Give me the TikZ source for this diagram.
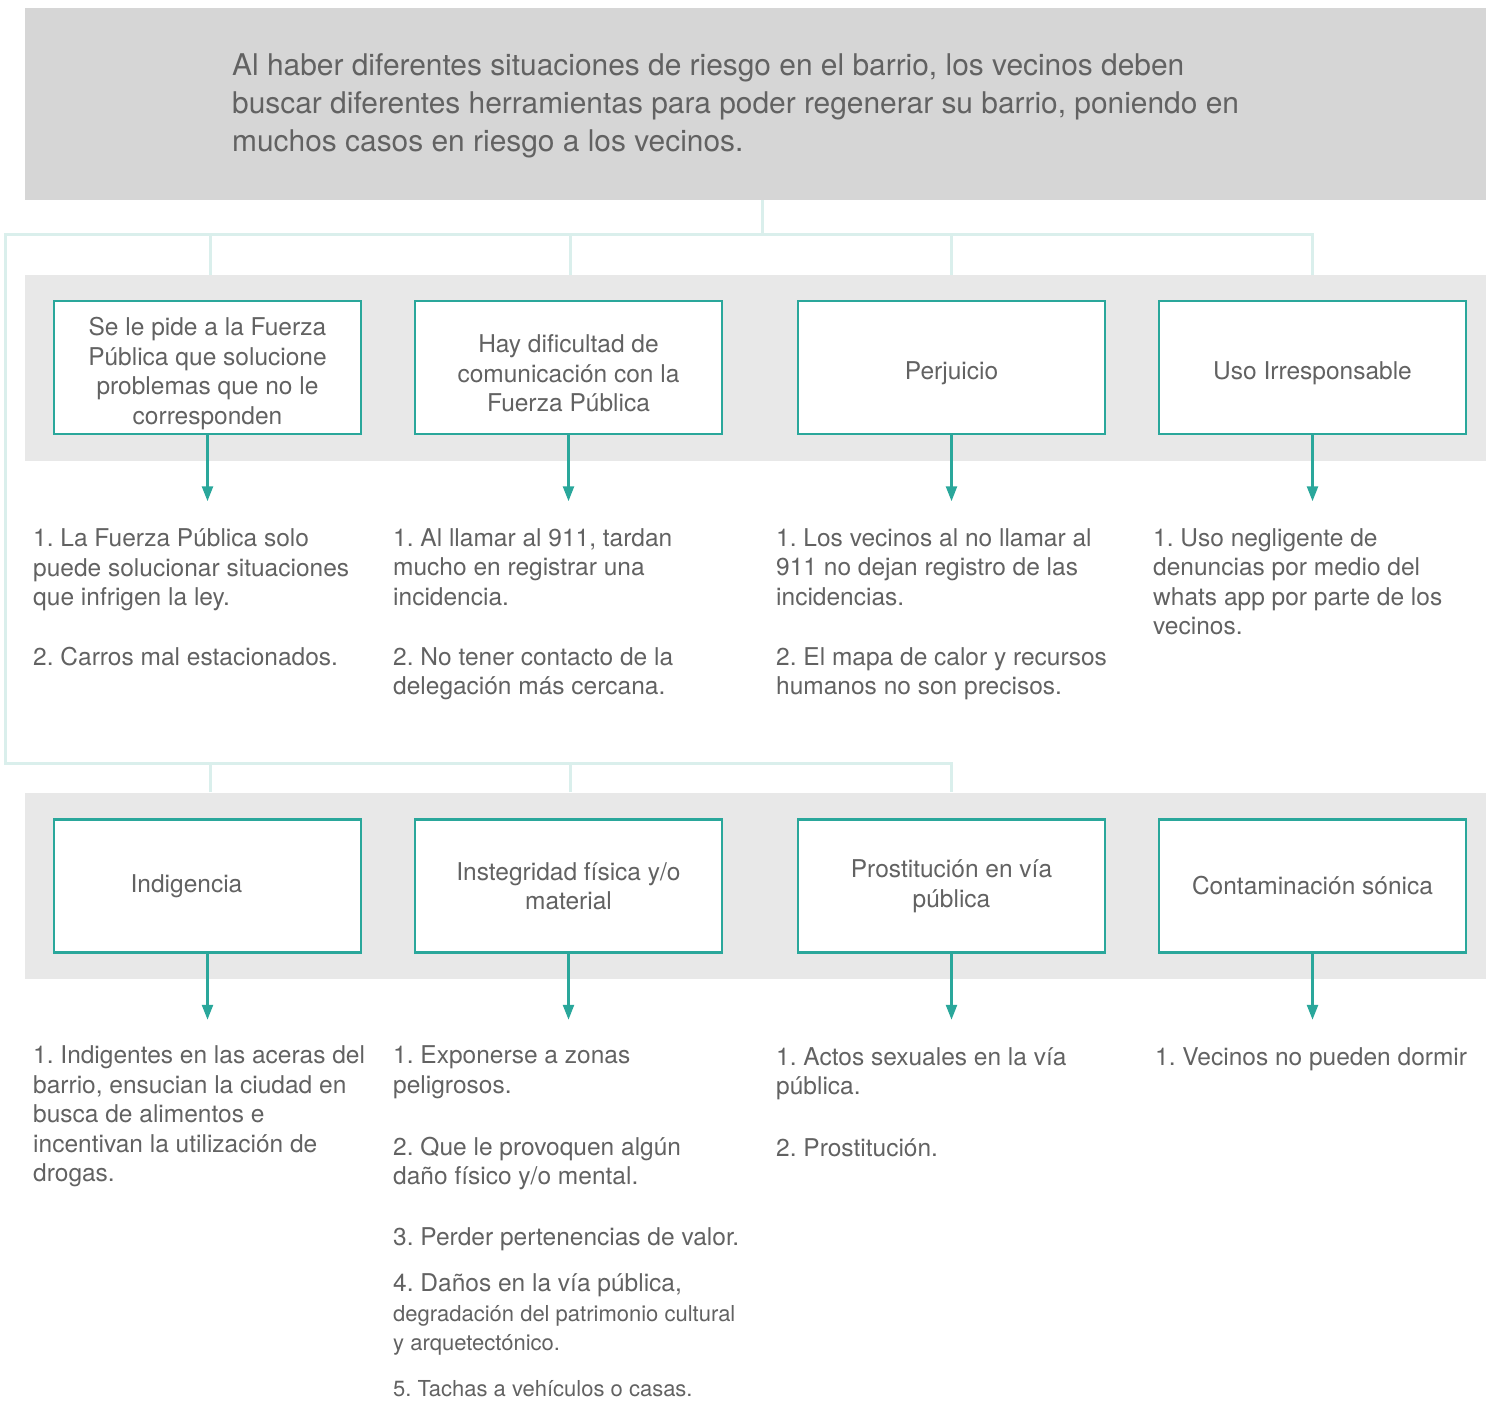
\documentclass[tikz,border=0pt]{standalone}
\usepackage{fontspec}
\setmainfont{TeX Gyre Heros}
\usetikzlibrary{arrows.meta,positioning}
\frenchspacing

\definecolor{tealline}{HTML}{2AA79B}
\definecolor{tealpale}{HTML}{DAEFEC}
\definecolor{headgray}{HTML}{D6D6D6}
\definecolor{bandgray}{HTML}{E8E8E8}
\definecolor{txtgray}{HTML}{626262}

\tikzset{
  headband/.style={fill=headgray, minimum width=1461pt, minimum height=192pt, inner sep=0},
  band/.style={fill=bandgray, minimum width=1461pt, minimum height=186pt, inner sep=0},
  riskbox/.style={draw=tealline, line width=2.5pt, fill=white, minimum width=307pt,
    minimum height=133pt, inner sep=0},
  boxtext/.style={align=center, inner sep=0, font=\fontsize{24.5}{29.5}\selectfont, text=txtgray},
  itemtext/.style={anchor=base west, align=left, inner sep=0,
    font=\fontsize{24.5}{29.5}\selectfont, text=txtgray},
  link/.style={draw=tealpale, line width=3pt},
  down/.style={draw=tealline, line width=2.5pt, -{Triangle[length=15pt,width=11pt]}},
}

\begin{document}
\begin{tikzpicture}[x=1pt,y=-1pt]
  \useasboundingbox (0,0) rectangle (1493,1404);

  % header
  \node[headband] (head) at (755.5,104) {};
  \node[anchor=base west, align=left, inner sep=0, font=\fontsize{29.9}{38}\selectfont,
    text=txtgray] (headtxt) at (232,152)
    {Al haber diferentes situaciones de riesgo en el barrio, los vecinos deben\\
     buscar diferentes herramientas para poder regenerar su barrio, poniendo en\\
     muchos casos en riesgo a los vecinos.};

  % bands
  \node[band] (band1) at (755.5,368) {};
  \node[band] (band2) at (755.5,885.5) {};

  % boxes
  \foreach \name/\x/\y/\dx/\dy/\txt in {
      b1/207.5/367.5/0/-6/{Se le pide a la Fuerza\\ Pública que solucione\\ problemas que no le\\ corresponden},
      b2/568.5/367.5/0/-6/{Hay dificultad de\\ comunicación con la\\ Fuerza Pública},
      b3/951.5/367.5/0/-6/{Perjuicio},
      b4/1312.5/367.5/0/-6/{Uso Irresponsable},
      b5/207.5/886/-21/0/{Indigencia},
      b6/568.5/886/0/0/{Instegridad física y/o\\ material},
      b7/951.5/886/0/0/{Prostitución en vía\\ pública},
      b8/1312.5/886/0/0/{Contaminación sónica}%
    } {
      \node[riskbox] (\name) at (\x,\y) {};
      \node[boxtext] (\name t) at ([xshift=\dx pt,yshift=\dy pt]\name.center) {\txt};
    }

  % connectors
  \coordinate (trunk) at (762,200);
  \coordinate (bus1) at (5,235);
  \coordinate (bus2) at (5,763);
  \draw[link] (trunk) -- (trunk |- bus1);
  \draw[link] (b4 |- band1.north) |- (bus1) -- (bus2) -| (b7 |- band2.north);
  \foreach \b/\dx in {b1/2.5,b2/1.5,b3/0}
    \draw[link] ([xshift=\dx pt]\b |- band1.north) -- ([xshift=\dx pt]\b |- bus1);
  \foreach \b/\dx in {b5/2.5,b6/1.5}
    \draw[link] ([xshift=\dx pt]\b |- band2.north) -- ([xshift=\dx pt]\b |- bus2);

  % arrows
  \foreach \b in {b1,b2,b3,b4,b5,b6,b7,b8}
    \draw[down] (\b.south) -- ++(0,66);

  % first row of items (anchored at the last baseline)
  \node[itemtext] (t1) at (33,665.5) {1. La Fuerza Pública solo\\ puede solucionar situaciones\\ que infrigen la ley.\\[30.5pt] 2. Carros mal estacionados.};
  \node[itemtext] (t2) at (393,694.5) {1. Al llamar al 911, tardan\\ mucho en registrar una\\ incidencia.\\[30.5pt] 2. No tener contacto de la\\ delegación más cercana.};
  \node[itemtext] (t3) at (776,694.5) {1. Los vecinos al no llamar al\\ 911 no dejan registro de las\\ incidencias.\\[30.5pt] 2. El mapa de calor y recursos\\ humanos no son precisos.};
  \node[itemtext] (t4) at (1153,634.5) {1. Uso negligente de\\ denuncias por medio del\\ whats app por parte de los\\ vecinos.};

  % second row of items
  \node[itemtext] (t5) at (33,1181.5) {1. Indigentes en las aceras del\\ barrio, ensucian la ciudad en\\ busca de alimentos e\\ incentivan la utilización de\\ drogas.};
  \node[itemtext] (t6) at (393,1396.5) {1. Exponerse a zonas\\ peligrosos.\\[32.5pt] 2. Que le provoquen algún\\ daño físico y/o mental.\\[31.5pt]
    3. Perder pertenencias de valor.\\[16.5pt] 4. Daños en la vía pública,\\
    {\fontsize{22}{29.5}\selectfont degradación del patrimonio cultural}\\
    {\fontsize{22}{29.5}\selectfont y arquetectónico.}\\[16.5pt]
    {\fontsize{22}{29.5}\selectfont 5. Tachas a vehículos o casas.}};
  \node[itemtext] (t7) at (776,1156.5) {1. Actos sexuales en la vía\\ pública.\\[32.5pt] 2. Prostitución.};
  \node[itemtext] (t8) at (1155,1065.5) {1. Vecinos no pueden dormir};
\end{tikzpicture}
\end{document}
